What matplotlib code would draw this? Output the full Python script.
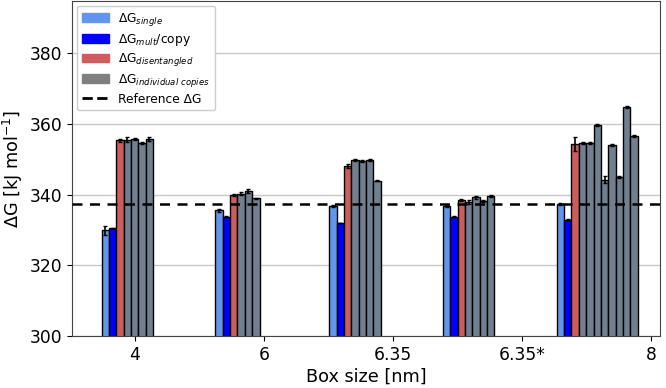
import matplotlib.pyplot as plt
from matplotlib.patches import Patch
from matplotlib.lines import Line2D

# box sizes (tick labels)
box_labels = ["4", "6", "6.35", "6.35*", "8"]

# free energies [kJ/mol]
dG_single = [329.9, 335.5, 336.8, 336.8, 337.3]
dG_single_err = [1.2, 0.3, 0.2, 0.2, 0.3]

dG_mult = [330.5, 333.7, 332.0, 333.7, 332.9]
dG_mult_err = [0.1, 0.1, 0.1, 0.1, 0.1]

dG_dis = [355.3, 340.0, 348.0, 338.4, 354.3]
dG_dis_err = [0.4, 0.3, 0.6, 0.3, 2.0]

dG_copies = [
    [355.5, 355.6, 354.7, 355.8],
    [340.3, 341.0, 338.9],
    [349.8, 349.6, 349.8, 343.9],
    [337.9, 339.2, 338.2, 339.5],
    [354.7, 354.5, 359.6, 344.2, 354.0, 345.0, 364.8, 356.5],
]
dG_copies_err = [
    [0.7, 0.3, 0.3, 0.6],
    [0.3, 0.5, 0.2],
    [0.3, 0.3, 0.3, 0.2],
    [0.6, 0.4, 0.3, 0.3],
    [0.3, 0.3, 0.3, 1.0, 0.3, 0.3, 0.3, 0.3],
]

dG_ref = 337.3

w = 0.057
gap = 0.882
offset = -0.258

fig = plt.figure(figsize=(6.66, 3.88), dpi=100)
ax = fig.add_axes([0.108, 0.134, 0.883, 0.863])

ekw = dict(ecolor="black", capsize=1.5, error_kw=dict(elinewidth=1.2, capthick=1))
for i in range(len(box_labels)):
    x0 = offset + i * gap + w / 2
    ax.bar(x0, dG_single[i], w, yerr=dG_single_err[i], color="cornflowerblue",
           edgecolor="black", linewidth=1, **ekw)
    ax.bar(x0 + w, dG_mult[i], w, yerr=dG_mult_err[i], color="blue",
           edgecolor="black", linewidth=1, **ekw)
    ax.bar(x0 + 2 * w, dG_dis[i], w, yerr=dG_dis_err[i], color="indianred",
           edgecolor="black", linewidth=1, **ekw)
    for j, v in enumerate(dG_copies[i]):
        ax.bar(x0 + (3 + j) * w, v, w, yerr=dG_copies_err[i][j], color="slategray",
               edgecolor="black", linewidth=1, **ekw)

ax.axhline(dG_ref, color="black", linestyle="--", linewidth=1.8, dashes=(4, 3), zorder=3)

ax.set_xticks(range(len(box_labels)))
ax.set_xticklabels(box_labels)
ax.set_xlim(-0.488, 4.07)
ax.set_ylim(300, 394.7)
ax.set_yticks([300, 320, 340, 360, 380])
ax.tick_params(labelsize=12.3)
ax.yaxis.grid(True, color="#c8c8c8", linewidth=1)
ax.set_axisbelow(True)
for s in ax.spines.values():
    s.set_color("#444444")

ax.set_xlabel("Box size [nm]", fontsize=12.7, labelpad=3)
ax.set_ylabel("ΔG [kJ mol$^{-1}$]", fontsize=12.7, labelpad=3)

handles = [
    Patch(color="cornflowerblue", label="ΔG$_{single}$"),
    Patch(color="blue", label="ΔG$_{mult}$/copy"),
    Patch(color="indianred", label="ΔG$_{disentangled}$"),
    Patch(color="gray", label="ΔG$_{individual\\ copies}$"),
    Line2D([0], [0], color="black", linestyle="--", linewidth=2, label="Reference ΔG"),
]
ax.legend(handles=handles, loc="upper left", fontsize=8.8, framealpha=1,
          borderaxespad=0.4, handlelength=2.2, labelspacing=0.3)

fig.savefig("out.png", dpi=100)
